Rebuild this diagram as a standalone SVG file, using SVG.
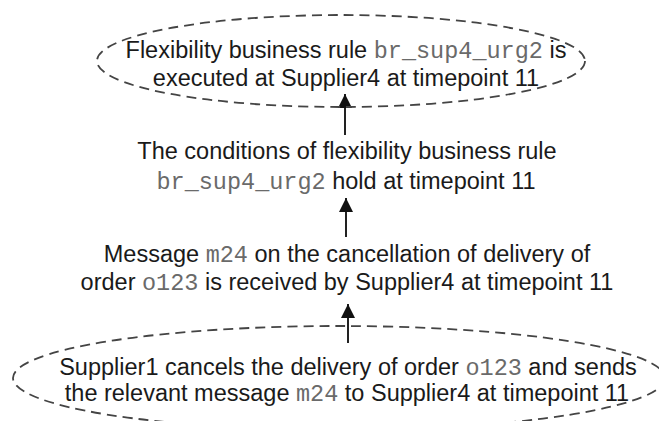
<svg xmlns="http://www.w3.org/2000/svg" width="659" height="421" viewBox="0 0 659 421">
<style>
.t{font-family:"Liberation Sans",Arial,sans-serif;font-size:23.5px;fill:#1a1a1a;text-anchor:middle}
.m{font-family:"Liberation Mono","Courier New",monospace;fill:#6a6a6a}
.e{fill:none;stroke:#444;stroke-width:1.8;stroke-dasharray:10 6}
.c{stroke:#222;stroke-width:2;fill:none;marker-end:url(#ah)}
</style>
<defs>
<marker id="ah" viewBox="0 0 14 14" refX="14" refY="7" markerWidth="14" markerHeight="14" markerUnits="userSpaceOnUse" orient="auto">
<path d="M0,0 L14,7 L0,14 Z" fill="#111"/>
</marker>
</defs>
<rect width="659" height="421" fill="#fff"/>
<g id="connectors">
<line class="c" x1="345" y1="135" x2="345" y2="94"/>
<line class="c" x1="346" y1="237" x2="346" y2="198"/>
<line class="c" x1="348" y1="343" x2="348" y2="304"/>
</g>
<g id="n1">
<ellipse class="e" cx="341" cy="61" rx="244" ry="46"/>
<text class="t" x="346" y="58">Flexibility business rule <tspan class="m">br_sup4_urg2</tspan> is</text>
<text class="t" x="346" y="86">executed at Supplier4 at timepoint 11</text>
</g>
<g id="n2">
<text class="t" x="347" y="159">The conditions of flexibility business rule</text>
<text class="t" x="346" y="189"><tspan class="m">br_sup4_urg2</tspan> hold at timepoint 11</text>
</g>
<g id="n3">
<text class="t" x="347" y="262">Message <tspan class="m">m24</tspan> on the cancellation of delivery of</text>
<text class="t" x="347" y="290">order <tspan class="m">o123</tspan> is received by Supplier4 at timepoint 11</text>
</g>
<g id="n4">
<ellipse class="e" cx="339" cy="378" rx="326" ry="52"/>
<text class="t" x="348" y="375">Supplier1 cancels the delivery of order <tspan class="m">o123</tspan> and sends</text>
<text class="t" x="347" y="401">the relevant message <tspan class="m">m24</tspan> to Supplier4 at timepoint 11</text>
</g>
</svg>
